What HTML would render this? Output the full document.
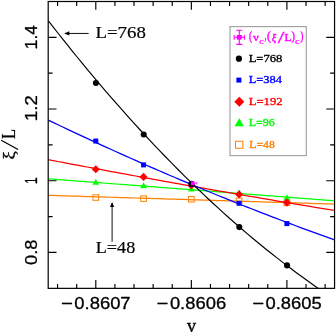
<!DOCTYPE html>
<html><head><meta charset="utf-8"><title>chart</title>
<style>html,body{margin:0;padding:0;background:#fff}svg{display:block;will-change:transform}</style></head>
<body>
<svg width="336" height="332" viewBox="0 0 336 332">
<rect width="336" height="332" fill="#fff"/>
<defs><clipPath id="c"><rect x="48.2" y="1.5" width="286.35" height="286.85"/></clipPath></defs>
<g clip-path="url(#c)">
<path d="M48.20,195.31 L53.05,195.46 L57.91,195.61 L62.76,195.76 L67.61,195.91 L72.47,196.06 L77.32,196.21 L82.17,196.36 L87.03,196.51 L91.88,196.66 L96.73,196.80 L101.59,196.95 L106.44,197.10 L111.29,197.25 L116.15,197.40 L121.00,197.55 L125.85,197.70 L130.71,197.85 L135.56,198.00 L140.41,198.15 L145.27,198.29 L150.12,198.44 L154.97,198.59 L159.83,198.74 L164.68,198.89 L169.53,199.04 L174.39,199.19 L179.24,199.34 L184.09,199.49 L188.95,199.64 L193.80,199.78 L198.66,199.93 L203.51,200.08 L208.36,200.23 L213.22,200.38 L218.07,200.53 L222.92,200.68 L227.78,200.83 L232.63,200.98 L237.48,201.13 L242.34,201.27 L247.19,201.42 L252.04,201.57 L256.90,201.72 L261.75,201.87 L266.60,202.02 L271.46,202.17 L276.31,202.32 L281.16,202.47 L286.02,202.62 L290.87,202.76 L295.72,202.91 L300.58,203.06 L305.43,203.21 L310.28,203.36 L315.14,203.51 L319.99,203.66 L324.84,203.81 L329.70,203.96 L334.55,204.11" fill="none" stroke="#ff8000" stroke-width="1.25"/>
<rect x="92.95" y="194.8" width="5.7" height="5.5" fill="none" stroke="#ff8000" stroke-width="1"/>
<rect x="140.72" y="195.85" width="5.7" height="5.5" fill="none" stroke="#ff8000" stroke-width="1"/>
<rect x="188.50" y="196.55" width="5.7" height="5.5" fill="none" stroke="#ff8000" stroke-width="1"/>
<rect x="236.27" y="198.05" width="5.7" height="5.5" fill="none" stroke="#ff8000" stroke-width="1"/>
<rect x="284.05" y="200.05" width="5.7" height="5.5" fill="none" stroke="#ff8000" stroke-width="1"/>
<path d="M48.20,178.77 L53.05,179.15 L57.91,179.52 L62.76,179.89 L67.61,180.26 L72.47,180.64 L77.32,181.01 L82.17,181.38 L87.03,181.76 L91.88,182.13 L96.73,182.50 L101.59,182.88 L106.44,183.25 L111.29,183.62 L116.15,184.00 L121.00,184.37 L125.85,184.74 L130.71,185.12 L135.56,185.49 L140.41,185.86 L145.27,186.24 L150.12,186.61 L154.97,186.98 L159.83,187.36 L164.68,187.73 L169.53,188.10 L174.39,188.48 L179.24,188.85 L184.09,189.22 L188.95,189.59 L193.80,189.97 L198.66,190.34 L203.51,190.71 L208.36,191.09 L213.22,191.46 L218.07,191.83 L222.92,192.21 L227.78,192.58 L232.63,192.95 L237.48,193.33 L242.34,193.70 L247.19,194.07 L252.04,194.45 L256.90,194.82 L261.75,195.19 L266.60,195.57 L271.46,195.94 L276.31,196.31 L281.16,196.69 L286.02,197.06 L290.87,197.43 L295.72,197.80 L300.58,198.18 L305.43,198.55 L310.28,198.92 L315.14,199.30 L319.99,199.67 L324.84,200.04 L329.70,200.42 L334.55,200.79" fill="none" stroke="#00ff00" stroke-width="1.25"/>
<path d="M92.50,184.8 L95.80,178.8 L99.10,184.8Z" fill="#00ff00"/>
<path d="M140.27,188.3 L143.57,182.3 L146.87,188.3Z" fill="#00ff00"/>
<path d="M188.05,191.6 L191.35,185.6 L194.65,191.6Z" fill="#00ff00"/>
<path d="M235.82,195.4 L239.12,189.4 L242.42,195.4Z" fill="#00ff00"/>
<path d="M283.60,200.3 L286.90,194.3 L290.20,200.3Z" fill="#00ff00"/>
<path d="M48.20,159.65 L53.05,160.58 L57.91,161.51 L62.76,162.43 L67.61,163.35 L72.47,164.27 L77.32,165.18 L82.17,166.10 L87.03,167.01 L91.88,167.92 L96.73,168.83 L101.59,169.73 L106.44,170.63 L111.29,171.54 L116.15,172.43 L121.00,173.33 L125.85,174.22 L130.71,175.11 L135.56,176.00 L140.41,176.89 L145.27,177.77 L150.12,178.66 L154.97,179.53 L159.83,180.41 L164.68,181.29 L169.53,182.16 L174.39,183.03 L179.24,183.90 L184.09,184.76 L188.95,185.63 L193.80,186.49 L198.66,187.35 L203.51,188.20 L208.36,189.06 L213.22,189.91 L218.07,190.76 L222.92,191.61 L227.78,192.45 L232.63,193.30 L237.48,194.14 L242.34,194.98 L247.19,195.81 L252.04,196.64 L256.90,197.48 L261.75,198.31 L266.60,199.13 L271.46,199.96 L276.31,200.78 L281.16,201.60 L286.02,202.42 L290.87,203.23 L295.72,204.04 L300.58,204.86 L305.43,205.66 L310.28,206.47 L315.14,207.27 L319.99,208.08 L324.84,208.87 L329.70,209.67 L334.55,210.47" fill="none" stroke="#ff0000" stroke-width="1.25"/>
<path d="M91.80,169.25 L95.80,165.15 L99.80,169.25 L95.80,173.35Z" fill="#ff0000"/>
<path d="M139.57,176.9 L143.57,172.8 L147.57,176.9 L143.57,181.0Z" fill="#ff0000"/>
<path d="M187.35,185.5 L191.35,181.4 L195.35,185.5 L191.35,189.6Z" fill="#ff0000"/>
<path d="M235.12,194.4 L239.12,190.3 L243.12,194.4 L239.12,198.5Z" fill="#ff0000"/>
<path d="M282.90,202.6 L286.90,198.5 L290.90,202.6 L286.90,206.7Z" fill="#ff0000"/>
<path d="M48.20,120.08 L53.05,122.40 L57.91,124.72 L62.76,127.03 L67.61,129.33 L72.47,131.62 L77.32,133.90 L82.17,136.16 L87.03,138.42 L91.88,140.67 L96.73,142.90 L101.59,145.13 L106.44,147.34 L111.29,149.55 L116.15,151.75 L121.00,153.93 L125.85,156.11 L130.71,158.27 L135.56,160.42 L140.41,162.57 L145.27,164.70 L150.12,166.82 L154.97,168.94 L159.83,171.04 L164.68,173.13 L169.53,175.21 L174.39,177.29 L179.24,179.35 L184.09,181.40 L188.95,183.44 L193.80,185.47 L198.66,187.49 L203.51,189.50 L208.36,191.50 L213.22,193.49 L218.07,195.47 L222.92,197.44 L227.78,199.40 L232.63,201.34 L237.48,203.28 L242.34,205.21 L247.19,207.13 L252.04,209.03 L256.90,210.93 L261.75,212.82 L266.60,214.69 L271.46,216.56 L276.31,218.41 L281.16,220.26 L286.02,222.09 L290.87,223.92 L295.72,225.73 L300.58,227.54 L305.43,229.33 L310.28,231.11 L315.14,232.89 L319.99,234.65 L324.84,236.40 L329.70,238.15 L334.55,239.88" fill="none" stroke="#0000ff" stroke-width="1.25"/>
<rect x="93.30" y="138.55" width="5" height="5" fill="#0000ff"/>
<rect x="141.07" y="162.4" width="5" height="5" fill="#0000ff"/>
<rect x="188.85" y="182.0" width="5" height="5" fill="#0000ff"/>
<rect x="236.62" y="200.8" width="5" height="5" fill="#0000ff"/>
<rect x="284.40" y="221.1" width="5" height="5" fill="#0000ff"/>
<path d="M48.20,20.56 L53.05,26.81 L57.91,33.00 L62.76,39.14 L67.61,45.23 L72.47,51.27 L77.32,57.25 L82.17,63.18 L87.03,69.06 L91.88,74.89 L96.73,80.66 L101.59,86.38 L106.44,92.05 L111.29,97.67 L116.15,103.23 L121.00,108.74 L125.85,114.20 L130.71,119.61 L135.56,124.96 L140.41,130.26 L145.27,135.51 L150.12,140.71 L154.97,145.85 L159.83,150.94 L164.68,155.98 L169.53,160.97 L174.39,165.90 L179.24,170.78 L184.09,175.61 L188.95,180.39 L193.80,185.11 L198.66,189.78 L203.51,194.40 L208.36,198.97 L213.22,203.48 L218.07,207.94 L222.92,212.35 L227.78,216.71 L232.63,221.01 L237.48,225.27 L242.34,229.47 L247.19,233.61 L252.04,237.71 L256.90,241.75 L261.75,245.74 L266.60,249.68 L271.46,253.56 L276.31,257.39 L281.16,261.17 L286.02,264.90 L290.87,268.57 L295.72,272.19 L300.58,275.76 L305.43,279.28 L310.28,282.75 L315.14,286.16 L319.99,289.52 L324.84,292.83 L329.70,296.08 L334.55,299.28" fill="none" stroke="#000" stroke-width="1.15"/>
<circle cx="95.95" cy="83.05" r="3.05" fill="#000"/>
<circle cx="143.72" cy="134.5" r="3.05" fill="#000"/>
<circle cx="191.50" cy="183.9" r="3.05" fill="#000"/>
<circle cx="239.27" cy="227.1" r="3.05" fill="#000"/>
<circle cx="287.05" cy="265.4" r="3.05" fill="#000"/>
<g stroke="#ff00ff" stroke-width="0.8" fill="#ff00ff"><path d="M192.7,183.20000000000002H196.9M196.9,181.9V184.5" fill="none"/><rect x="190.9" y="181.3" width="3.6" height="4.0" stroke="none"/></g>
</g>
<rect x="48.2" y="1.5" width="286.35" height="286.85" fill="none" stroke="#000" stroke-width="1.2"/>
<path d="M57.58,288.35v-4.4M57.58,1.5v4.4M76.69,288.35v-4.4M76.69,1.5v4.4M95.80,288.35v-8.3M95.80,1.5v8.3M114.91,288.35v-4.4M114.91,1.5v4.4M134.02,288.35v-4.4M134.02,1.5v4.4M153.13,288.35v-4.4M153.13,1.5v4.4M172.24,288.35v-4.4M172.24,1.5v4.4M191.35,288.35v-8.3M191.35,1.5v8.3M210.46,288.35v-4.4M210.46,1.5v4.4M229.57,288.35v-4.4M229.57,1.5v4.4M248.68,288.35v-4.4M248.68,1.5v4.4M267.79,288.35v-4.4M267.79,1.5v4.4M286.90,288.35v-8.3M286.90,1.5v8.3M306.01,288.35v-4.4M306.01,1.5v4.4M325.12,288.35v-4.4M325.12,1.5v4.4M48.2,252.40h8.3M334.55,252.40h-8.3M48.2,216.55h4.4M334.55,216.55h-4.4M48.2,180.70h8.3M334.55,180.70h-8.3M48.2,144.85h4.4M334.55,144.85h-4.4M48.2,109.00h8.3M334.55,109.00h-8.3M48.2,73.15h4.4M334.55,73.15h-4.4M48.2,37.30h8.3M334.55,37.30h-8.3" stroke="#000" stroke-width="1.15" fill="none"/>
<rect x="35.8" y="177.60000000000002" width="1.15" height="5.9" fill="#000"/>
<rect x="35.8" y="42.65" width="1.15" height="5.9" fill="#000"/>
<rect x="35.8" y="114.35" width="1.15" height="5.9" fill="#000"/>
<path d="M1.2,140.3L18.1,149.5" stroke="#000" stroke-width="1.25"/>
<path d="M65,33.45H88.7" stroke="#000" stroke-width="0.95"/><path d="M64.2,33.45l5.1,-2.1v4.2z" fill="#000"/>
<path d="M112.1,203V241.7" stroke="#000" stroke-width="0.95"/><path d="M112.1,202.3l-2.1,4.8h4.2z" fill="#000"/>
<rect x="230" y="26.6" width="76.3" height="129" fill="#fff" stroke="#a2a2a2" stroke-width="1.15"/>
<text transform="translate(61.032,309.267) scale(0.20404,0.16667)" font-family="Liberation Sans, serif" font-size="100" fill="#000" stroke="#000" stroke-width="1.62" stroke-linejoin="round">−</text>
<text transform="translate(74.356,308.788) scale(0.18405,0.16224)" font-family="Liberation Sans, serif" font-size="100" fill="#000" stroke="#000" stroke-width="1.73" stroke-linejoin="round">0.8607</text>
<text transform="translate(156.582,309.267) scale(0.20404,0.16667)" font-family="Liberation Sans, serif" font-size="100" fill="#000" stroke="#000" stroke-width="1.62" stroke-linejoin="round">−</text>
<text transform="translate(169.907,308.788) scale(0.18374,0.16224)" font-family="Liberation Sans, serif" font-size="100" fill="#000" stroke="#000" stroke-width="1.73" stroke-linejoin="round">0.8606</text>
<text transform="translate(252.132,309.267) scale(0.20404,0.16667)" font-family="Liberation Sans, serif" font-size="100" fill="#000" stroke="#000" stroke-width="1.62" stroke-linejoin="round">−</text>
<text transform="translate(265.457,308.788) scale(0.18374,0.16224)" font-family="Liberation Sans, serif" font-size="100" fill="#000" stroke="#000" stroke-width="1.73" stroke-linejoin="round">0.8605</text>
<text transform="translate(36.664,49.148) rotate(-90) scale(0.17300,0.17122)" font-family="Liberation Sans, serif" font-size="100" fill="#000" stroke="#000" stroke-width="1.74" stroke-linejoin="round">1.4</text>
<text transform="translate(36.750,121.045) rotate(-90) scale(0.18598,0.17000)" font-family="Liberation Sans, serif" font-size="100" fill="#000" stroke="#000" stroke-width="1.69" stroke-linejoin="round">1.2</text>
<text transform="translate(36.584,264.989) rotate(-90) scale(0.18265,0.16643)" font-family="Liberation Sans, serif" font-size="100" fill="#000" stroke="#000" stroke-width="1.72" stroke-linejoin="round">0.8</text>
<text transform="translate(36.750,183.609) rotate(-90) scale(0.10115,0.17101)" font-family="Liberation Sans, serif" font-size="100" fill="#000" stroke="#000" stroke-width="2.20" stroke-linejoin="round">1</text>
<text transform="translate(14.960,139.010) rotate(-90) scale(0.16415,0.18641)" font-family="Liberation Serif, serif" font-size="100" fill="#000" stroke="#000" stroke-width="1.14" stroke-linejoin="round">L</text>
<text transform="translate(15.464,159.598) rotate(-90) scale(0.18701,0.17143)" font-family="Liberation Serif, serif" font-size="100" fill="#000" stroke="#000" stroke-width="1.67" stroke-linejoin="round">ξ</text>
<text transform="translate(186.900,331.519) scale(0.18000,0.18085)" font-family="Liberation Serif, serif" font-size="100" fill="#000" stroke="#000" stroke-width="2.22" stroke-linejoin="round">v</text>
<text transform="translate(95.429,38.228) scale(0.18854,0.17185)" font-family="Liberation Serif, serif" font-size="100" fill="#000" stroke="#000" stroke-width="1.11" stroke-linejoin="round">L=768</text>
<text transform="translate(95.797,253.034) scale(0.18134,0.16593)" font-family="Liberation Serif, serif" font-size="100" fill="#000" stroke="#000" stroke-width="1.15" stroke-linejoin="round">L=48</text>
<text transform="translate(248.635,62.093) scale(0.12601,0.10667)" font-family="Liberation Serif, serif" font-size="100" fill="#000" stroke="#000" stroke-width="3.27" stroke-linejoin="round">L=768</text>
<text transform="translate(248.639,83.493) scale(0.12430,0.10667)" font-family="Liberation Serif, serif" font-size="100" fill="#0000ff" stroke="#0000ff" stroke-width="3.29" stroke-linejoin="round">L=384</text>
<text transform="translate(248.633,104.893) scale(0.12698,0.10746)" font-family="Liberation Serif, serif" font-size="100" fill="#ff0000" stroke="#ff0000" stroke-width="3.24" stroke-linejoin="round">L=192</text>
<text transform="translate(248.651,126.293) scale(0.11978,0.10746)" font-family="Liberation Serif, serif" font-size="100" fill="#00ff00" stroke="#00ff00" stroke-width="3.34" stroke-linejoin="round">L=96</text>
<text transform="translate(249.206,148.093) scale(0.11774,0.10667)" font-family="Liberation Serif, serif" font-size="100" fill="#ff8000" stroke="#ff8000" stroke-width="3.39" stroke-linejoin="round">L=48</text>
<text transform="translate(249.038,40.172) scale(0.09057,0.11758)" font-family="Liberation Serif, serif" font-size="100" fill="#ff00ff" stroke="#ff00ff" stroke-width="3.65" stroke-linejoin="round">(</text>
<text transform="translate(253.000,40.987) scale(0.12000,0.11277)" font-family="Liberation Serif, serif" font-size="100" fill="#ff00ff" stroke="#ff00ff" stroke-width="3.27" stroke-linejoin="round">v</text>
<text transform="translate(259.150,44.321) scale(0.10000,0.07917)" font-family="Liberation Serif, serif" font-size="100" fill="#ff00ff" stroke="#ff00ff" stroke-width="3.13" stroke-linejoin="round">c</text>
<text transform="translate(264.406,40.054) scale(0.08387,0.13846)" font-family="Liberation Serif, serif" font-size="100" fill="#ff00ff" stroke="#ff00ff" stroke-width="2.25" stroke-linejoin="round">,</text>
<text transform="translate(266.932,40.172) scale(0.11698,0.11758)" font-family="Liberation Serif, serif" font-size="100" fill="#ff00ff" stroke="#ff00ff" stroke-width="3.24" stroke-linejoin="round">(</text>
<text transform="translate(271.685,40.636) scale(0.10500,0.10909)" font-family="Liberation Serif, serif" font-size="100" font-style="italic" fill="#ff00ff" stroke="#ff00ff" stroke-width="3.55" stroke-linejoin="round">ξ</text>
<text transform="translate(277.750,42.937) scale(0.23750,0.16269)" font-family="Liberation Serif, serif" font-size="100" fill="#ff00ff" stroke="#ff00ff" stroke-width="1.90" stroke-linejoin="round">/</text>
<text transform="translate(284.508,41.000) scale(0.11698,0.11298)" font-family="Liberation Serif, serif" font-size="100" fill="#ff00ff" stroke="#ff00ff" stroke-width="3.30" stroke-linejoin="round">L</text>
<text transform="translate(291.588,40.172) scale(0.10385,0.11758)" font-family="Liberation Serif, serif" font-size="100" fill="#ff00ff" stroke="#ff00ff" stroke-width="3.43" stroke-linejoin="round">)</text>
<text transform="translate(294.941,44.325) scale(0.10263,0.07500)" font-family="Liberation Serif, serif" font-size="100" fill="#ff00ff" stroke="#ff00ff" stroke-width="3.15" stroke-linejoin="round">c</text>
<text transform="translate(300.312,40.172) scale(0.09615,0.11758)" font-family="Liberation Serif, serif" font-size="100" fill="#ff00ff" stroke="#ff00ff" stroke-width="3.56" stroke-linejoin="round">)</text>
<g stroke="#ff00ff" stroke-width="1.1" fill="none"><path d="M239.3,30.199999999999996V44.4M236.3,30.199999999999996h6M236.3,44.4h6M234.20000000000002,37.3H244.4M234.20000000000002,34.9v4.8M244.4,34.9v4.8"/><rect x="236.8" y="35.0" width="5" height="4.6" fill="#ff00ff" stroke="none"/></g>
<circle cx="238.9" cy="58.7" r="3.1" fill="#000"/>
<rect x="236.4" y="77.6" width="5" height="5" fill="#0000ff"/>
<path d="M234.3,101.8 L239.3,96.8 L244.3,101.8 L239.3,106.8Z" fill="#ff0000"/>
<path d="M234.5,126.25 L239.3,118.2 L243.9,126.25Z" fill="#00ff00"/>
<rect x="235.5" y="141.25" width="7.4" height="7" fill="none" stroke="#ff8000" stroke-width="1"/>
</svg>
</body></html>
